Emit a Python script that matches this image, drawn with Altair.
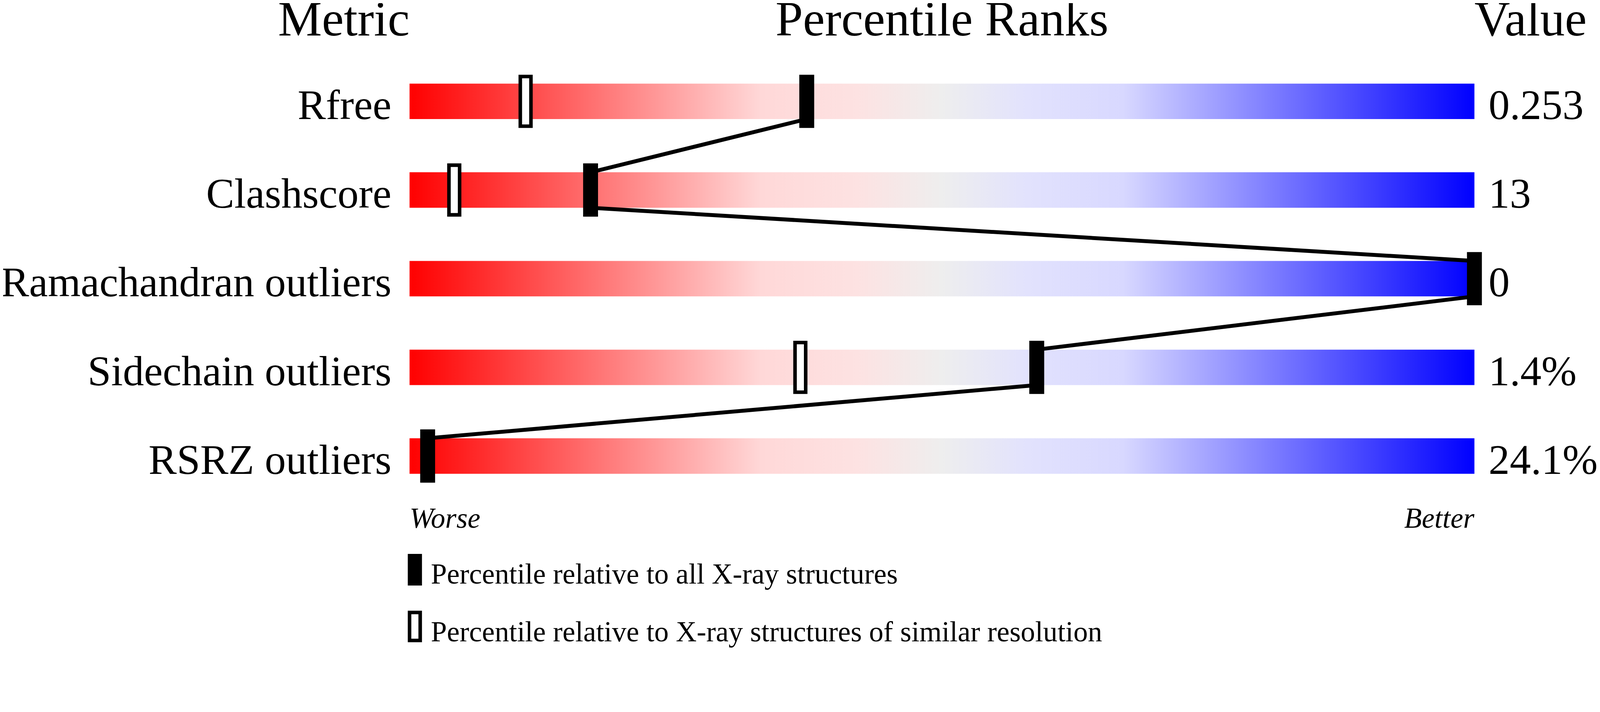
import altair as alt
import pandas as pd

# ---------------- data ----------------
metrics = ["Rfree", "Clashscore", "Ramachandran outliers", "Sidechain outliers", "RSRZ outliers"]
value_labels = ["0.253", "13", "0", "1.4%", "24.1%"]
pct_all = [37.3, 17.0, 100.0, 58.9, 1.7]          # percentile vs all X-ray structures
pct_similar = [10.9, 4.2, None, 36.7, None]       # percentile vs similar resolution
headers = ["Metric", "Percentile Ranks", "Value"]
scale_ends = ["Worse", "Better"]
legend_labels = ["Percentile relative to all X-ray structures",
                 "Percentile relative to X-ray structures of similar resolution"]

# ---------------- style ----------------
FONT = "Liberation Serif"
BAR_HALF = 0.2      # half bar height in row units (row = 250 px)
grad = {
    "gradient": "linear", "x1": 0, "x2": 1, "y1": 0, "y2": 0,
    "stops": [
        {"offset": 0.0, "color": "#ff0000"},
        {"offset": 0.33, "color": "#ffd8d8"},
        {"offset": 0.42, "color": "#fde2e2"},
        {"offset": 0.5, "color": "#eeeeee"},
        {"offset": 0.58, "color": "#e2e2fd"},
        {"offset": 0.67, "color": "#d8d8ff"},
        {"offset": 1.0, "color": "#0000ff"},
    ],
}

rows = pd.DataFrame({
    "metric": metrics,
    "value": value_labels,
    "pct": pct_all,
    "sim": pct_similar,
    "row": list(range(len(metrics))),
})
rows["mid"] = rows["row"] + 0.5
rows["top"] = rows["mid"] - BAR_HALF
rows["bot"] = rows["mid"] + BAR_HALF
rows["x0"] = 0
rows["x1"] = 100

segs = pd.DataFrame({
    "xa": rows["pct"].iloc[:-1].values,
    "ya": rows["bot"].iloc[:-1].values,
    "xb": rows["pct"].iloc[1:].values,
    "yb": rows["top"].iloc[1:].values,
})
sim = rows.dropna(subset=["sim"]).reset_index(drop=True)

one = pd.DataFrame({"k": [0]})   # single-row source for annotation layers

xs = alt.Scale(domain=[0, 100], nice=False, zero=False)
ys = alt.Scale(domain=[0, 5], reverse=True, nice=False, zero=False)

base = alt.Chart(rows)

bars = base.mark_rect(fill=grad).encode(
    x=alt.X("x0:Q", scale=xs, axis=None), x2="x1:Q",
    y=alt.Y("top:Q", scale=ys, axis=None), y2="bot:Q",
)

lines = alt.Chart(segs).mark_rule(color="black", strokeWidth=11).encode(
    x=alt.X("xa:Q", scale=xs, axis=None), x2="xb:Q",
    y=alt.Y("ya:Q", scale=ys, axis=None), y2="yb:Q",
)

marks_all = base.mark_tick(orient="vertical", thickness=42, size=150,
                           color="black", opacity=1).encode(
    x=alt.X("pct:Q", scale=xs, axis=None),
    y=alt.Y("mid:Q", scale=ys, axis=None),
)

marks_sim = alt.Chart(sim).mark_tick(orient="vertical", thickness=30, size=140,
                                     fill="white", stroke="black", strokeWidth=10,
                                     filled=True, opacity=1).encode(
    x=alt.X("sim:Q", scale=xs, axis=None),
    y=alt.Y("mid:Q", scale=ys, axis=None),
)

metric_text = base.mark_text(align="right", baseline="alphabetic", font=FONT,
                             fontSize=119, dx=-51, color="black").encode(
    x=alt.datum(0, scale=xs), y=alt.Y("bot:Q", scale=ys, axis=None), text="metric:N",
)

value_text = base.mark_text(align="left", baseline="alphabetic", font=FONT,
                            fontSize=119, dx=40, color="black").encode(
    x=alt.datum(100, scale=xs), y=alt.Y("bot:Q", scale=ys, axis=None), text="value:N",
)

hdr = []
for label, pos, al in zip(headers, [0, 50, 100], ["right", "center", "left"]):
    hdr.append(alt.Chart(one).mark_text(text=label, align=al, baseline="alphabetic",
                                        font=FONT, fontSize=139, color="black").encode(
        x=alt.datum(pos), y=alt.value(-61)))

ends = []
for label, pos, al in zip(scale_ends, [0, 100], ["left", "right"]):
    ends.append(alt.Chart(one).mark_text(text=label, align=al, baseline="alphabetic",
                                         font=FONT, fontSize=81, fontStyle="italic",
                                         color="black").encode(
        x=alt.datum(pos), y=alt.value(1327)))

leg_all = alt.Chart(one).mark_tick(orient="vertical", thickness=40, size=89,
                                   color="black", opacity=1).encode(
    x=alt.value(15), y=alt.value(1445.5))
leg_sim = alt.Chart(one).mark_tick(orient="vertical", thickness=30, size=79,
                                   fill="white", stroke="black", strokeWidth=10,
                                   filled=True, opacity=1).encode(
    x=alt.value(15), y=alt.value(1605.5))
leg_t1 = alt.Chart(one).mark_text(text=legend_labels[0], align="left", baseline="alphabetic",
                                  font=FONT, fontSize=81, color="black").encode(
    x=alt.value(60), y=alt.value(1485))
leg_t2 = alt.Chart(one).mark_text(text=legend_labels[1], align="left", baseline="alphabetic",
                                  font=FONT, fontSize=81, color="black").encode(
    x=alt.value(60), y=alt.value(1647))

chart = alt.layer(
    bars, lines, marks_all, marks_sim, metric_text, value_text,
    *hdr, *ends, leg_all, leg_sim, leg_t1, leg_t2,
).properties(
    width=3000, height=1250,
    padding={"left": 1145, "top": 61, "right": 345, "bottom": 497},
    autosize=alt.AutoSizeParams(type="none"),
    background="white",
).configure_view(strokeWidth=0)

chart.save("out.html", embed_options={"renderer": "svg", "actions": False})
